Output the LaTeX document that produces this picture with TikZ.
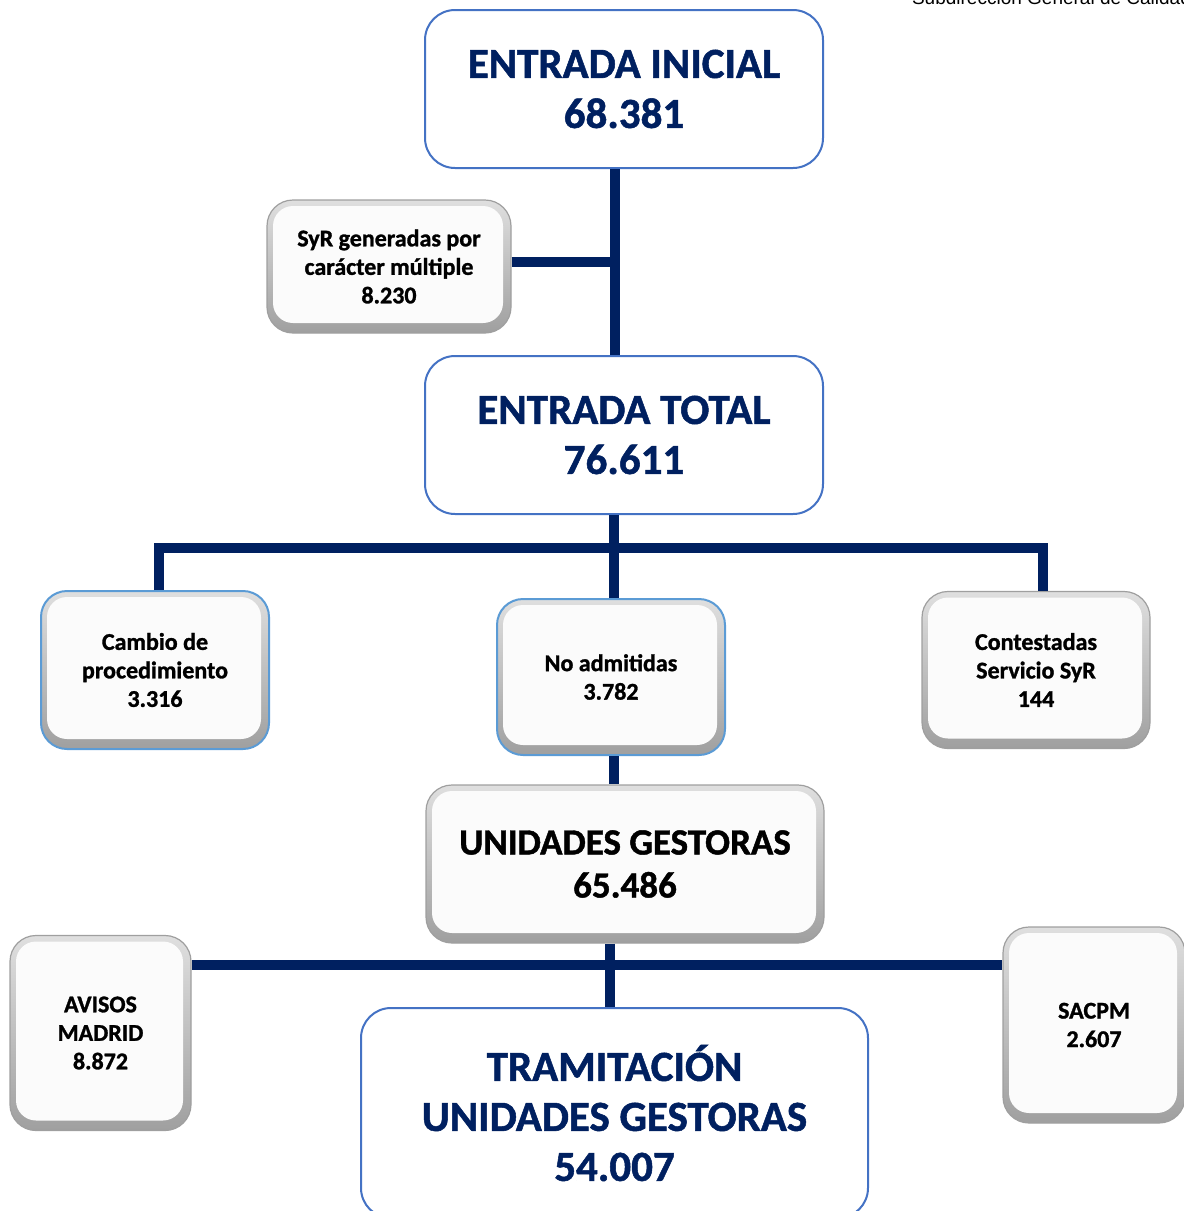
\documentclass[tikz,border=0pt]{standalone}
\usepackage{fontspec}
\setmainfont{Carlito}[BoldFeatures={FakeBold=1.2}]
\newfontfamily\cabfont{Liberation Sans}
\definecolor{azullinea}{HTML}{002060}
\definecolor{bordeazul}{HTML}{4472C4}
\definecolor{bordeclaro}{HTML}{5B9BD5}
\definecolor{textoazul}{HTML}{002060}
\begin{document}
\begin{tikzpicture}[x=0.5pt,y=-0.5pt,
  linea/.style={draw=azullinea, line width=5pt},
  grande/.style={rounded corners=15pt, draw=bordeazul, line width=1pt, fill=white, text=textoazul, align=center, font=\fontsize{21.5}{25}\selectfont\bfseries, minimum width=199pt, minimum height=79pt},
  relieve/.style={rounded corners=13pt, draw=gray!75, line width=0.6pt, top color=gray!25, bottom color=gray!75, align=center, font=\fontsize{12}{14.25}\selectfont\bfseries,
    path picture={\fill[gray!3, rounded corners=10pt] ([shift={(3pt,-3pt)}]path picture bounding box.north west) rectangle ([shift={(-4pt,5pt)}]path picture bounding box.south east);}},
  relieveazul/.style={relieve, draw=bordeclaro, line width=1pt}]

\useasboundingbox (0,0) rectangle (1184,1211);
\clip (0,0) rectangle (1184,1211);

\node[anchor=base west, font=\cabfont\fontsize{9.5}{11}\selectfont] (cabecera) at (905,4.5) {Subdirección General de Calidad};

\node[grande] (inicial) at (624,89) {ENTRADA INICIAL\\68.381};
\node[relieve, minimum width=122pt, minimum height=66.5pt] (syr) at (389,266.5) {SyR generadas por\\carácter múltiple\\8.230};
\node[grande] (total) at (624,435) {ENTRADA TOTAL\\76.611};

\node[relieveazul, minimum width=114pt, minimum height=79pt] (cambio) at (155,670) {Cambio de\\procedimiento\\3.316};
\node[relieveazul, minimum width=114pt, minimum height=78pt] (noadm) at (611,677) {No admitidas\\3.782};
\node[relieve, minimum width=114pt, minimum height=78.5pt] (contest) at (1036,670) {Contestadas\\Servicio SyR\\144};

\node[relieve, minimum width=199pt, minimum height=79pt, font=\fontsize{18.5}{21.5}\selectfont\bfseries] (unidades) at (625,864) {UNIDADES GESTORAS\\65.486};

\node[relieve, minimum width=90.5pt, minimum height=97.5pt] (avisos) at (100.5,1033) {AVISOS\\MADRID\\8.872};
\node[grande, minimum width=253.5pt, minimum height=105pt] (tramit) at (614.5,1113) {TRAMITACIÓN\\UNIDADES GESTORAS\\54.007};
\node[relieve, minimum width=91pt, minimum height=98pt] (sacpm) at (1094,1025) {SACPM\\2.607};

\coordinate (nudo1) at (615,262);
\coordinate (nudo2) at (614,548);
\coordinate (nudo3) at (610,965);

\draw[linea] (inicial.south -| nudo1) -- (total.north -| nudo1);
\draw[linea] (syr.east |- nudo1) -- (nudo1);
\draw[linea] (total.south -| nudo2) -- (noadm.north -| nudo2);
\draw[linea] ([xshift=2pt]cambio.north) |- (nudo2) -| ([xshift=3.5pt]contest.north);
\draw[linea] (noadm.south -| nudo2) -- (unidades.north -| nudo2);
\draw[linea] (unidades.south -| nudo3) -- (tramit.north -| nudo3);
\draw[linea] (avisos.east |- nudo3) -- (sacpm.west |- nudo3);
\end{tikzpicture}
\end{document}
